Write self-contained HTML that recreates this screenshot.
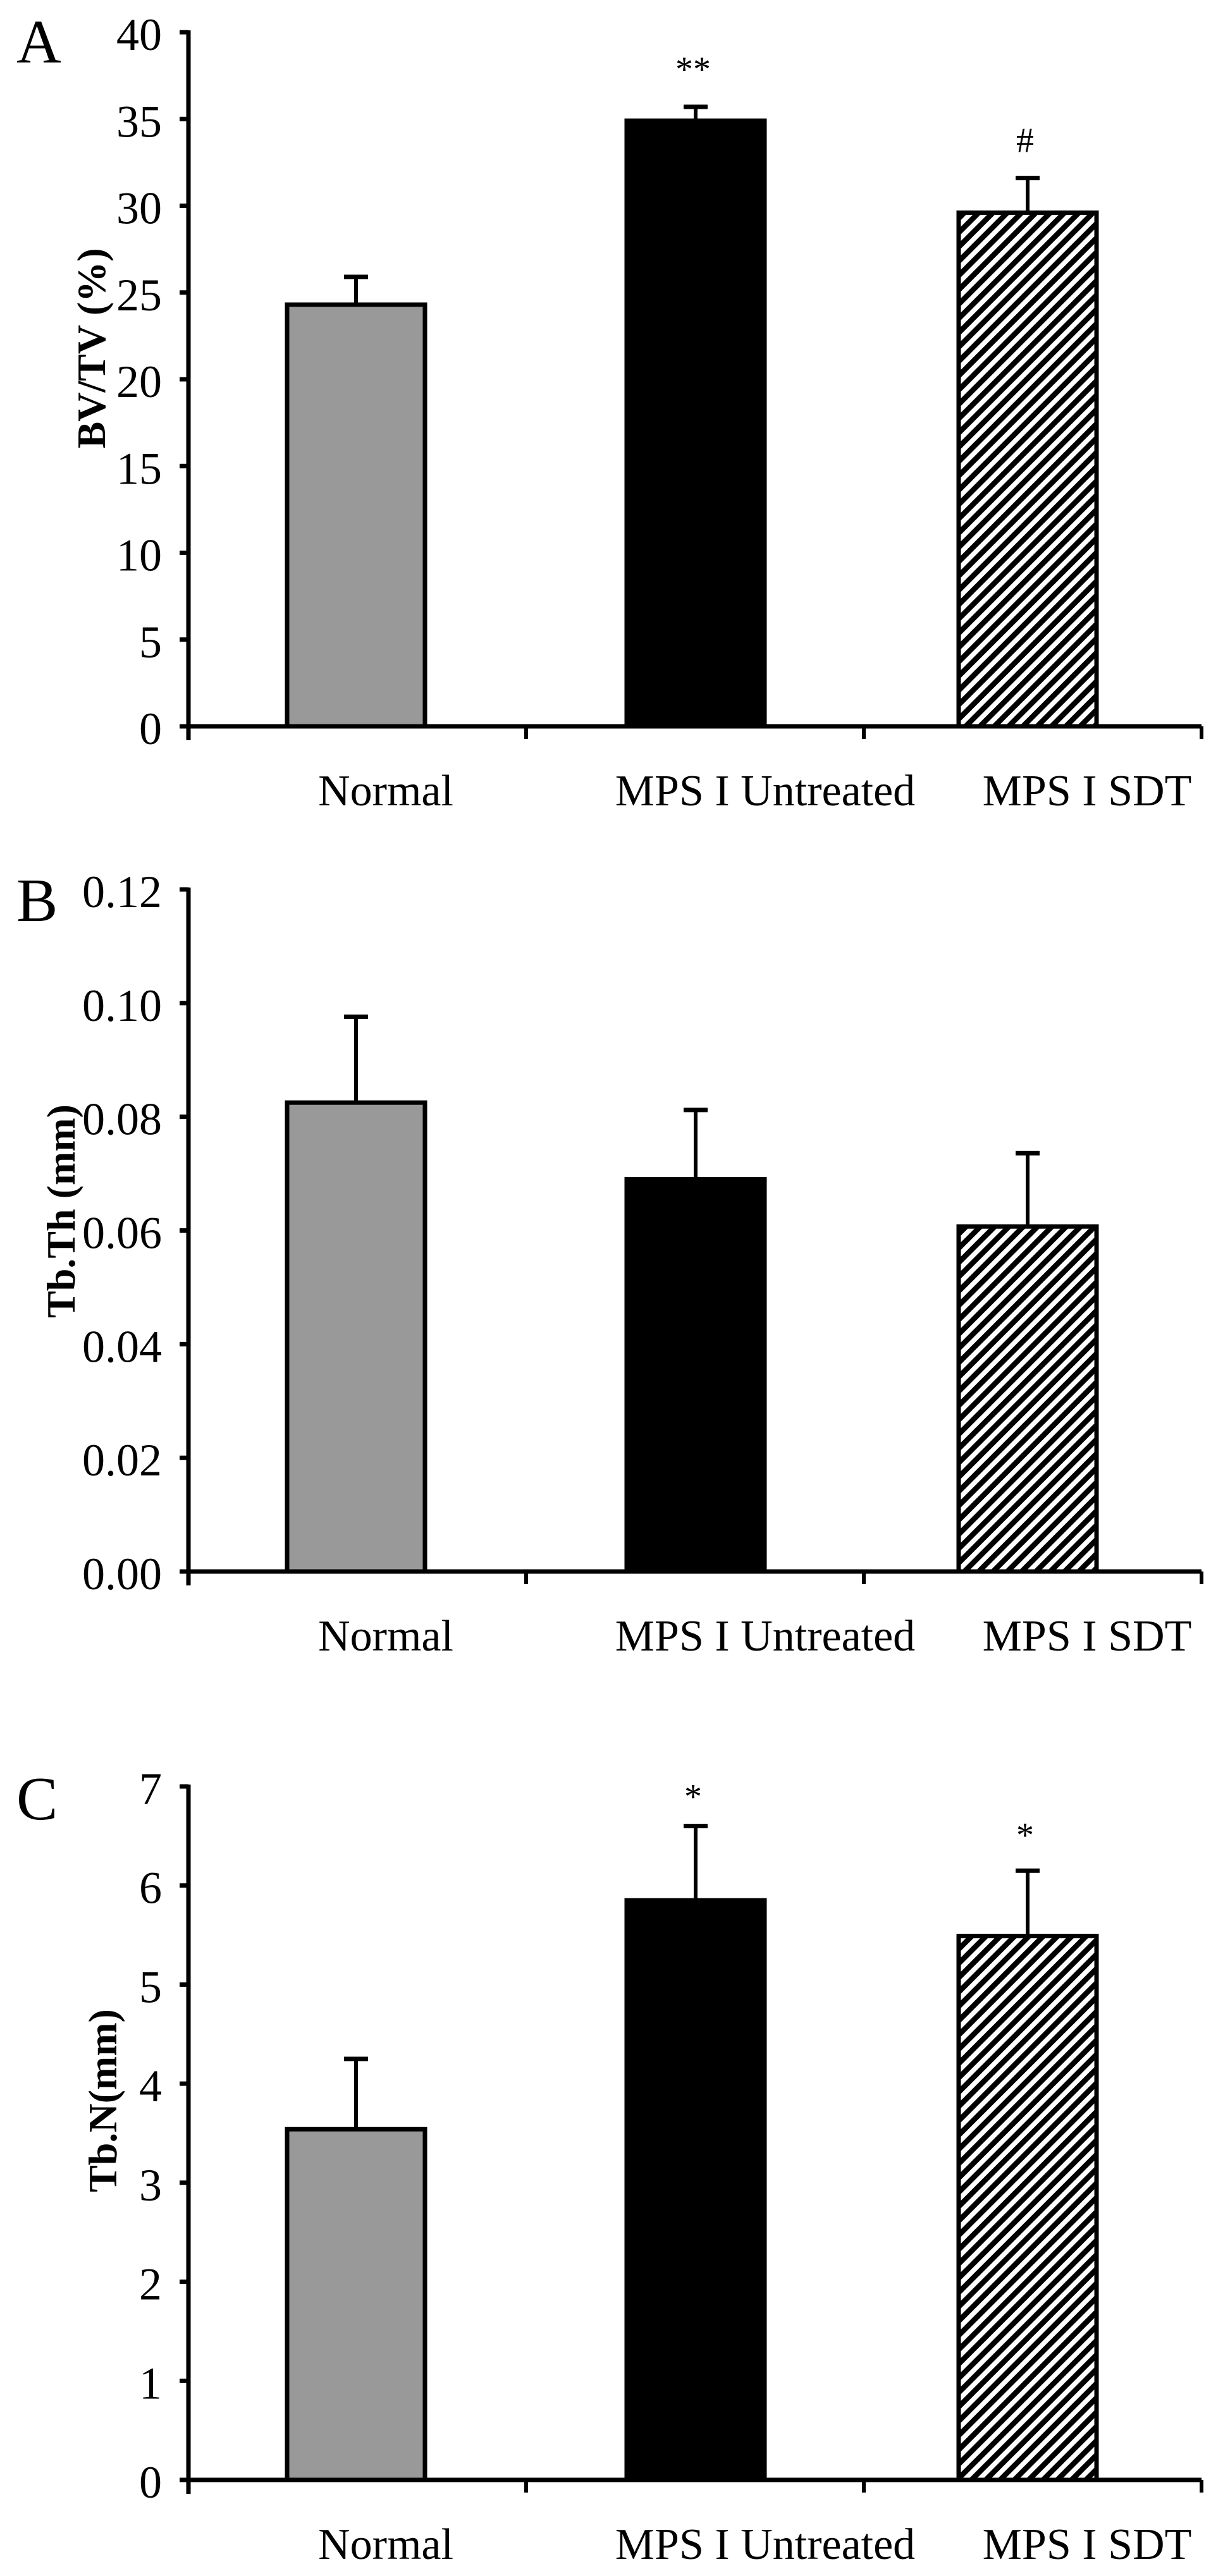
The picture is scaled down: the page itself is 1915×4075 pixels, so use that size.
<!DOCTYPE html>
<html><head><meta charset="utf-8"><style>
html,body{margin:0;padding:0;background:#fff;}
svg{display:block;font-family:"Liberation Serif",serif;}
</style></head><body>
<svg id="fig" width="1915" height="4075" viewBox="0 0 1915 4075" xmlns="http://www.w3.org/2000/svg">
<defs>
<pattern id="hatch" patternUnits="userSpaceOnUse" width="16" height="16" patternTransform="rotate(45)">
<rect width="16" height="16" fill="#fff"/><rect width="8.5" height="16" fill="#000"/>
</pattern>
</defs>
</svg>
<script>
const categories = ["Normal", "MPS I Untreated", "MPS I SDT"];
const bvtvValues = [24.3, 34.9, 29.6];
const bvtvErrTop = [25.9, 35.7, 31.6];
const bvtvTicks = [0, 5, 10, 15, 20, 25, 30, 35, 40];
const bvtvTickLabels = ["0", "5", "10", "15", "20", "25", "30", "35", "40"];
const tbthValues = [0.0825, 0.069, 0.0607];
const tbthErrTop = [0.0976, 0.0812, 0.0736];
const tbthTicks = [0, 0.02, 0.04, 0.06, 0.08, 0.10, 0.12];
const tbthTickLabels = ["0.00", "0.02", "0.04", "0.06", "0.08", "0.10", "0.12"];
const tbnValues = [3.54, 5.85, 5.49];
const tbnErrTop = [4.25, 6.6, 6.15];
const tbnTicks = [0, 1, 2, 3, 4, 5, 6, 7];
const tbnTickLabels = ["0", "1", "2", "3", "4", "5", "6", "7"];
const bvtvMarks = ["", "**", "#"];
const tbthMarks = ["", "", ""];
const tbnMarks = ["", "*", "*"];

const NS = "http://www.w3.org/2000/svg";
const svg = document.getElementById("fig");
function mk(tag, attrs, parent) {
  const e = document.createElementNS(NS, tag);
  for (const k in attrs) e.setAttribute(k, attrs[k]);
  (parent || svg).appendChild(e);
  return e;
}
const fills = ["#999999", "#000000", "url(#hatch)"];
const labelX = [610, 1210, 1719];
const barCenters = [563, 1100, 1625];

function panel(cfg) {
  const g = mk("g", {});
  
  
  const x0 = 298, x1 = 1900;
  const y = v => cfg.zero - (v / cfg.max) * (cfg.zero - cfg.top);
  const band = (x1 - x0) / categories.length;
  const bw = 218;
  categories.forEach((c, i) => {
    const cx = barCenters[i];
    const v = cfg.values[i], et = cfg.err[i];
    const stem = mk("line", {x1: cx, x2: cx, y1: y(v), y2: y(et), stroke: "#000", "stroke-width": 6}, g);
    
    
    const cap = mk("line", {x1: cx - 19, x2: cx + 19, y1: y(et), y2: y(et), stroke: "#000", "stroke-width": 7}, g);
    
    
    const r = mk("rect", {x: cx - bw / 2, y: y(v), width: bw, height: cfg.zero - y(v), fill: fills[i], stroke: "#000", "stroke-width": 7}, g);
    
    
    if (cfg.marks[i]) {
      const t = mk("text", {x: cx - 4, y: y(cfg.markVals[i]) + 22, "font-size": 56, "text-anchor": "middle"}, g);
      t.textContent = cfg.marks[i];
      
      
    }
    const lab = mk("text", {x: labelX[i], y: cfg.zero + 125, "font-size": 70, "text-anchor": "middle"}, g);
    lab.textContent = c;
    
    
  });
  const ya = mk("line", {x1: x0, x2: x0, y1: cfg.top - 3, y2: cfg.zero + 22, stroke: "#000", "stroke-width": 7}, g);
  
  
  const xa = mk("line", {x1: x0 - 14, x2: x1, y1: cfg.zero, y2: cfg.zero, stroke: "#000", "stroke-width": 7}, g);
  
  
  for (let i = 1; i <= categories.length; i++) {
    const tx = x0 + band * i;
    const t = mk("line", {x1: tx, x2: tx, y1: cfg.zero, y2: cfg.zero + 20, stroke: "#000", "stroke-width": 6}, g);
    
    
  }
  cfg.ticks.forEach((tv, i) => {
    const ty = y(tv);
    const t = mk("line", {x1: x0 - 14, x2: x0, y1: ty, y2: ty, stroke: "#000", "stroke-width": 7}, g);
    
    
    const l = mk("text", {x: 256, y: ty + 28, "font-size": 72, "text-anchor": "end"}, g);
    l.textContent = cfg.tickLabels[i];
    
    
  });
  const tt = mk("text", {x: 0, y: 0, "font-size": 64, "font-weight": "bold", "text-anchor": "middle",
    transform: "translate(" + cfg.titleX + "," + cfg.titleY + ") rotate(-90)"}, g);
  tt.textContent = cfg.title;
  
  
  const pl = mk("text", {x: 26, y: cfg.letterY, "font-size": 98}, g);
  pl.textContent = cfg.letter;
  
  
}

panel({name: "panel-a-bvtv", top: 51, zero: 1149, max: 40, values: bvtvValues, err: bvtvErrTop,
  ticks: bvtvTicks, tickLabels: bvtvTickLabels, marks: bvtvMarks, markVals: [0, 38.0, 33.9],
  title: "BV/TV (%)", titleX: 166, titleY: 551, letter: "A", letterY: 99});
panel({name: "panel-b-tbth", top: 1407, zero: 2486, max: 0.12, values: tbthValues, err: tbthErrTop,
  ticks: tbthTicks, tickLabels: tbthTickLabels, marks: tbthMarks, markVals: [0, 0, 0],
  title: "Tb.Th (mm)", titleX: 118, titleY: 1916, letter: "B", letterY: 1457});
panel({name: "panel-c-tbn", top: 2826, zero: 3923, max: 7, values: tbnValues, err: tbnErrTop,
  ticks: tbnTicks, tickLabels: tbnTickLabels, marks: tbnMarks, markVals: [0, 6.92, 6.53],
  title: "Tb.N(mm)", titleX: 184, titleY: 3323, letter: "C", letterY: 2878});
</script>
</body></html>
